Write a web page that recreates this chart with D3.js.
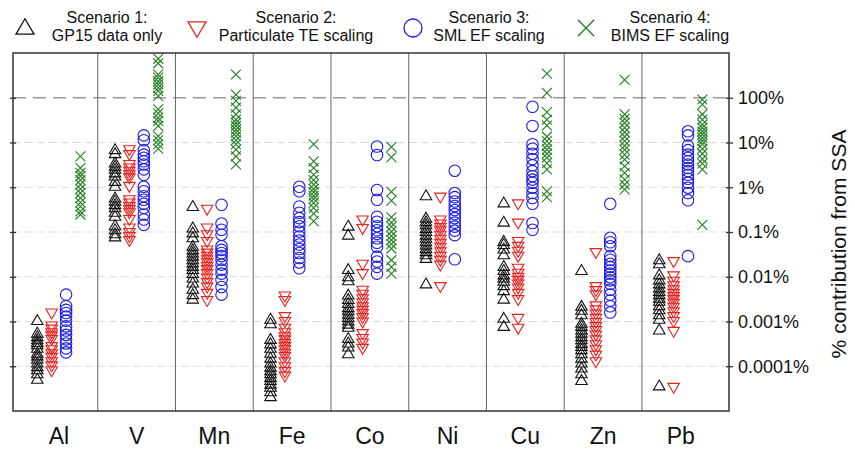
<!DOCTYPE html>
<html>
<head>
<meta charset="utf-8">
<script src="https://cdn.jsdelivr.net/npm/d3@7"></script>
<style>
    body { margin: 0; background: #fff; }
    svg { display: block; font-family: "Liberation Sans", Arial, sans-serif; }
</style>
</head>
<body>
<div id="chart"></div>
<script>
// ============================================
// SSA contribution by element - 4 scenarios
// ============================================

const elements = ['Al', 'V', 'Mn', 'Fe', 'Co', 'Ni', 'Cu', 'Zn', 'Pb'];

const scenarioNames = [
    ['Scenario 1:', 'GP15 data only'],
    ['Scenario 2:', 'Particulate TE scaling'],
    ['Scenario 3:', 'SML EF scaling'],
    ['Scenario 4:', 'BIMS EF scaling']
];

const tickValues = [1e-4, 1e-3, 1e-2, 1e-1, 1, 10, 100];
const tickLabels = ['0.0001%', '0.001%', '0.01%', '0.1%', '1%', '10%', '100%'];

// values are log10(% contribution from SSA), one list per element (Al ... Pb)
const scen1 = [
    [-2.98, -3.26, -3.34, -3.41, -3.47, -3.52, -3.60, -3.71, -3.77, -3.84, -3.93, -4.01, -4.08, -4.17, -4.29],
    [0.84, 0.75, 0.54, 0.47, 0.40, 0.32, 0.25, 0.13, 0.02, -0.24, -0.31, -0.39, -0.46, -0.56, -0.65, -0.86, -0.95, -1.04, -1.11],
    [-0.43, -0.91, -1.02, -1.13, -1.32, -1.40, -1.47, -1.54, -1.62, -1.69, -1.77, -1.84, -1.93, -2.03, -2.14, -2.28, -2.40, -2.50],
    [-2.95, -3.05, -3.40, -3.50, -3.60, -3.71, -3.82, -3.93, -4.02, -4.10, -4.17, -4.25, -4.32, -4.40, -4.47, -4.57, -4.68],
    [-0.87, -1.07, -1.84, -2.00, -2.09, -2.41, -2.51, -2.60, -2.69, -2.76, -2.84, -2.91, -2.99, -3.06, -3.13, -3.38, -3.48, -3.57, -3.72],
    [-0.19, -0.69, -0.77, -0.84, -0.92, -0.99, -1.07, -1.14, -1.22, -1.29, -1.37, -1.44, -1.51, -1.59, -2.16],
    [-0.35, -0.78, -1.21, -1.28, -1.38, -1.51, -1.77, -1.86, -1.96, -2.03, -2.10, -2.20, -2.31, -2.50, -2.93, -3.11],
    [-1.86, -2.66, -2.75, -2.85, -3.04, -3.11, -3.19, -3.26, -3.34, -3.41, -3.49, -3.56, -3.63, -3.72, -3.82, -3.93, -4.04, -4.17, -4.32],
    [-1.62, -1.71, -1.96, -2.07, -2.16, -2.25, -2.33, -2.40, -2.48, -2.55, -2.65, -2.74, -2.85, -2.95, -3.19, -4.44]
];

const scen2 = [
    [-2.81, -3.10, -3.17, -3.25, -3.32, -3.40, -3.56, -3.63, -3.72, -3.80, -3.90, -3.99, -4.10],
    [0.84, 0.73, 0.51, 0.43, 0.36, 0.28, 0.21, 0.02, -0.28, -0.35, -0.43, -0.50, -0.57, -0.72, -0.91, -1.01, -1.10, -1.19],
    [-0.49, -0.91, -1.06, -1.21, -1.40, -1.47, -1.54, -1.62, -1.69, -1.77, -1.84, -1.93, -2.03, -2.13, -2.23, -2.37, -2.53],
    [-2.43, -2.53, -2.89, -3.00, -3.15, -3.25, -3.34, -3.41, -3.49, -3.56, -3.63, -3.71, -3.78, -3.90, -4.01, -4.12, -4.22],
    [-0.73, -0.92, -1.72, -1.93, -2.30, -2.39, -2.49, -2.58, -2.67, -2.75, -2.82, -2.91, -3.01, -3.27, -3.38, -3.48, -3.60],
    [-0.22, -0.73, -0.82, -0.90, -0.97, -1.07, -1.16, -1.25, -1.34, -1.44, -1.54, -1.63, -1.74, -2.22],
    [-0.37, -0.80, -1.21, -1.32, -1.43, -1.54, -1.81, -1.92, -2.01, -2.08, -2.16, -2.25, -2.37, -2.51, -2.93, -3.15],
    [-1.46, -2.22, -2.31, -2.40, -2.65, -2.74, -2.83, -2.93, -3.02, -3.11, -3.20, -3.30, -3.41, -3.52, -3.63, -3.75, -3.90],
    [-1.66, -1.98, -2.10, -2.20, -2.29, -2.37, -2.44, -2.51, -2.59, -2.68, -2.78, -2.89, -3.00, -3.22, -4.47]
];

const scen3 = [
    [-2.40, -2.66, -2.74, -2.81, -2.89, -2.98, -3.11, -3.20, -3.30, -3.40, -3.49, -3.60, -3.69],
    [1.16, 1.05, 0.83, 0.73, 0.66, 0.58, 0.51, 0.40, 0.28, 0.01, -0.09, -0.20, -0.28, -0.37, -0.46, -0.61, -0.72, -0.84],
    [-0.39, -0.81, -0.95, -1.06, -1.32, -1.40, -1.47, -1.54, -1.62, -1.73, -1.84, -1.93, -2.07, -2.23, -2.40],
    [0.01, -0.09, -0.43, -0.57, -0.69, -0.78, -0.87, -0.99, -1.10, -1.19, -1.28, -1.38, -1.47, -1.58, -1.68, -1.81],
    [0.91, 0.72, -0.06, -0.28, -0.66, -0.77, -0.87, -0.96, -1.04, -1.14, -1.24, -1.33, -1.55, -1.66, -1.78, -1.93],
    [0.37, -0.13, -0.22, -0.32, -0.42, -0.51, -0.60, -0.69, -0.79, -0.88, -0.97, -1.07, -1.61],
    [1.80, 1.37, 0.96, 0.86, 0.75, 0.63, 0.49, 0.36, 0.25, 0.17, 0.10, -0.01, -0.13, -0.24, -0.37, -0.80, -0.95],
    [-0.37, -1.13, -1.23, -1.32, -1.54, -1.62, -1.71, -1.78, -1.86, -1.93, -2.01, -2.08, -2.16, -2.29, -2.40, -2.53, -2.66, -2.80],
    [1.25, 1.16, 0.93, 0.83, 0.73, 0.66, 0.58, 0.51, 0.43, 0.36, 0.28, 0.19, 0.10, -0.01, -0.13, -0.29, -1.54]
];

const scen4 = [
    [0.69, 0.43, 0.32, 0.25, 0.16, 0.06, -0.04, -0.13, -0.24, -0.34, -0.43, -0.54, -0.61],
    [2.87, 2.77, 2.52, 2.45, 2.37, 2.30, 2.22, 2.15, 2.04, 1.74, 1.65, 1.55, 1.48, 1.37, 1.14, 1.05, 0.96, 0.86],
    [2.52, 2.07, 1.93, 1.78, 1.63, 1.51, 1.44, 1.37, 1.29, 1.22, 1.14, 1.05, 0.96, 0.84, 0.69, 0.51],
    [0.96, 0.58, 0.43, 0.28, 0.16, 0.06, -0.04, -0.11, -0.19, -0.26, -0.35, -0.46, -0.59, -0.76],
    [0.90, 0.67, -0.10, -0.30, -0.67, -0.79, -0.88, -0.99, -1.09, -1.18, -1.27, -1.37, -1.63, -1.78, -1.93],
    [],
    [2.54, 2.11, 1.68, 1.51, 1.38, 1.13, 1.03, 0.93, 0.84, 0.75, 0.66, 0.54, 0.40, -0.09, -0.22],
    [2.40, 1.63, 1.53, 1.44, 1.33, 1.23, 1.13, 1.03, 0.93, 0.84, 0.73, 0.62, 0.47, 0.32, 0.17, 0.06, -0.05],
    [1.96, 1.85, 1.63, 1.51, 1.40, 1.33, 1.25, 1.18, 1.10, 1.03, 0.96, 0.86, 0.75, 0.63, 0.53, 0.40, -0.84]
];

const scenarios = [scen1, scen2, scen3, scen4];
const colors = ['#111111', '#e8211d', '#1d1de6', '#1f7f1f'];
const shapes = ['up', 'down', 'circle', 'cross'];

// ============================================
// Layout
// ============================================

const width = 855;
const height = 449;
const plot = { left: 13, right: 729, top: 53, bottom: 411 };

const svg = d3.select('#chart')
    .append('svg')
    .attr('width', width)
    .attr('height', height);

const x = d3.scaleLinear()
    .domain([0.41, 9.62])
    .range([plot.left, plot.right]);

const y = d3.scaleLog()
    .domain([1e-5, 1e3])
    .range([plot.bottom, plot.top]);

const offset = 0.185; // spacing between scenarios inside a panel

// marker path builder
function markerPath(shape, s) {
    if (shape === 'up') {
        const h = s * 0.86;
        return `M0,${-h * 0.6}L${s / 2},${h * 0.4}L${-s / 2},${h * 0.4}Z`;
    }
    if (shape === 'down') {
        const h = s * 0.86;
        return `M0,${h * 0.6}L${s / 2},${-h * 0.4}L${-s / 2},${-h * 0.4}Z`;
    }
    if (shape === 'circle') {
        const r = s / 2;
        return `M${r},0A${r},${r} 0 1,1 ${-r},0A${r},${r} 0 1,1 ${r},0Z`;
    }
    const a = s * 0.43;
    return `M${-a},${-a}L${a},${a}M${-a},${a}L${a},${-a}`;
}

// Gridlines
const grid = svg.append('g');

grid.selectAll('line')
    .data(tickValues)
    .join('line')
    .attr('x1', plot.left)
    .attr('x2', plot.right)
    .attr('y1', d => y(d))
    .attr('y2', d => y(d))
    .attr('stroke', d => d === 100 ? '#9a9a9a' : '#dddddd')
    .attr('stroke-width', d => d === 100 ? 1.3 : 1)
    .attr('stroke-dasharray', d => d === 100 ? '13,7' : '8,4');

// Panel separators
svg.append('g')
    .selectAll('line')
    .data(d3.range(1, elements.length))
    .join('line')
    .attr('x1', d => x(d + 0.5))
    .attr('x2', d => x(d + 0.5))
    .attr('y1', plot.top)
    .attr('y2', plot.bottom)
    .attr('stroke', '#666')
    .attr('stroke-width', 1);

// Points
const points = svg.append('g');

scenarios.forEach((scen, s) => {
    const data = [];
    scen.forEach((vals, i) => {
        vals.forEach(v => data.push({ el: i + 1, value: Math.pow(10, v) }));
    });
    points.append('g')
        .selectAll('path')
        .data(data)
        .join('path')
        .attr('transform', d => `translate(${x(d.el + (s - 1.5) * offset)},${y(d.value)})`)
        .attr('d', markerPath(shapes[s], 11.5))
        .attr('fill', 'none')
        .attr('stroke', colors[s])
        .attr('stroke-width', 1.1);
});

// Frame
svg.append('rect')
    .attr('x', plot.left)
    .attr('y', plot.top)
    .attr('width', plot.right - plot.left)
    .attr('height', plot.bottom - plot.top)
    .attr('fill', 'none')
    .attr('stroke', '#333')
    .attr('stroke-width', 1.5);

// Left axis (ticks only)
const leftAxis = svg.append('g')
    .attr('transform', `translate(${plot.left},0)`)
    .call(d3.axisLeft(y).tickValues(tickValues).tickFormat('').tickSize(3));
leftAxis.select('.domain').remove();
leftAxis.selectAll('.tick line').attr('x1', 3).attr('x2', -3).attr('stroke', '#333').attr('stroke-width', 1.3);

// Right axis
const rightAxis = svg.append('g')
    .attr('transform', `translate(${plot.right},0)`)
    .call(d3.axisRight(y)
        .tickValues(tickValues)
        .tickFormat((d, i) => tickLabels[i])
        .tickSize(4)
        .tickPadding(5));
rightAxis.select('.domain').remove();
rightAxis.selectAll('.tick line').attr('x1', -3).attr('x2', 4).attr('stroke', '#333').attr('stroke-width', 1.3);
rightAxis.selectAll('.tick text')
    .attr('fill', '#111')
    .style('font-size', '18px')
    .style('font-family', '"Liberation Sans", Arial, sans-serif');

// Right axis title
svg.append('text')
    .attr('transform', `translate(846,${(plot.top + plot.bottom) / 2 + 12}) rotate(-90)`)
    .attr('text-anchor', 'middle')
    .style('font-size', '21px')
    .attr('fill', '#111')
    .text('% contribution from SSA');

// Element labels
svg.append('g')
    .selectAll('text')
    .data(elements)
    .join('text')
    .attr('x', (d, i) => x(i + 1))
    .attr('y', 444)
    .attr('text-anchor', 'middle')
    .style('font-size', '23px')
    .attr('fill', '#111')
    .text(d => d);

// Legend
const legendMarkerX = [25, 197, 413, 586];
const legendTextX = [107, 296, 489, 670];

const legend = svg.append('g');

scenarioNames.forEach((lines, s) => {
    legend.append('path')
        .attr('transform', `translate(${legendMarkerX[s]},28)`)
        .attr('d', markerPath(shapes[s], s === 3 ? 19 : 18))
        .attr('fill', 'none')
        .attr('stroke', colors[s])
        .attr('stroke-width', 1.3);

    legend.append('text')
        .attr('x', legendTextX[s])
        .attr('y', 23)
        .attr('text-anchor', 'middle')
        .style('font-size', '16px')
        .attr('fill', '#111')
        .text(lines[0]);

    legend.append('text')
        .attr('x', legendTextX[s])
        .attr('y', 41)
        .attr('text-anchor', 'middle')
        .style('font-size', '16px')
        .attr('fill', '#111')
        .text(lines[1]);
});
</script>
</body>
</html>
